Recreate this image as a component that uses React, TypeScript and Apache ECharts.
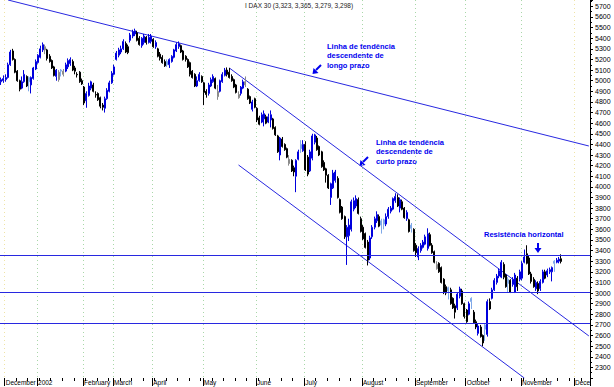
import React, { useEffect, useRef } from 'react';
import * as echarts from 'echarts';

// number of daily slots on the x axis (trading days + empty space at the right)
const dayCount = 256;

// month tick labels and the trading-day index at which each month starts
const monthLabels = ['December', '2002', 'February', 'March', 'April', 'May', 'June', 'July', 'August', 'September', 'October', 'November', 'Dece'];
const monthStarts = [2, 16, 36, 49, 66, 88, 111, 132, 157, 180, 202, 226, 249];

// y axis range and ticks
const priceMin = 2200;
const priceMax = 5760;
const priceStep = 100;

// daily DAX candles: [open, high, low, close]
const ohlc: number[][] = [
  [4990, 5030, 4960, 5010], [5000, 5050, 4980, 5020], [5010, 5060, 4990, 5030], [5030, 5170, 5020, 5150],
  [5150, 5290, 5140, 5270], [5280, 5300, 5190, 5200], [5200, 5210, 5070, 5080], [5090, 5100, 4990, 5000],
  [5000, 5010, 4900, 4920], [4930, 5040, 4920, 4990], [4990, 5100, 4980, 5060], [5040, 5050, 4940, 4950],
  [5030, 5040, 4900, 4990], [4960, 5040, 4880, 5030], [5020, 5130, 5010, 5120], [5110, 5200, 5100, 5180],
  [5170, 5250, 5160, 5240], [5220, 5330, 5210, 5300], [5290, 5360, 5270, 5340], [5290, 5340, 5250, 5320],
  [5290, 5300, 5190, 5210], [5230, 5250, 5170, 5180], [5190, 5200, 5110, 5120], [5130, 5140, 5040, 5050],
  [5040, 5110, 5000, 5100], [5010, 5100, 4990, 5080], [5100, 5110, 5040, 5090], [5060, 5110, 5040, 5090],
  [5090, 5170, 5080, 5150], [5130, 5210, 5110, 5190], [5160, 5220, 5140, 5200], [5180, 5200, 5090, 5100],
  [5120, 5140, 5060, 5090], [5060, 5080, 5030, 5055], [5080, 5090, 4980, 4990], [5000, 5020, 4960, 4970],
  [4940, 4950, 4770, 4790], [4810, 4900, 4745, 4880], [4860, 4980, 4850, 4950], [4930, 5000, 4910, 4990],
  [4960, 4980, 4890, 4900], [4870, 4900, 4840, 4865], [4880, 4890, 4810, 4820], [4840, 4850, 4740, 4760],
  [4770, 4790, 4720, 4750], [4740, 4850, 4700, 4830], [4830, 4930, 4820, 4910], [4900, 5000, 4890, 4980],
  [4980, 5090, 4970, 5070], [5060, 5150, 5050, 5130], [5200, 5280, 5190, 5260], [5240, 5310, 5220, 5290],
  [5270, 5330, 5250, 5300], [5300, 5390, 5290, 5370], [5350, 5370, 5260, 5270], [5320, 5340, 5250, 5265],
  [5380, 5450, 5360, 5430], [5420, 5480, 5400, 5460], [5440, 5490, 5420, 5470], [5450, 5470, 5370, 5380],
  [5400, 5420, 5330, 5340], [5330, 5410, 5310, 5400], [5360, 5440, 5340, 5420], [5410, 5420, 5340, 5360],
  [5360, 5440, 5350, 5410], [5370, 5440, 5350, 5420], [5390, 5400, 5310, 5320], [5320, 5380, 5300, 5360],
  [5300, 5310, 5220, 5230], [5250, 5270, 5190, 5210], [5220, 5240, 5160, 5170], [5180, 5200, 5130, 5140],
  [5180, 5200, 5130, 5150], [5150, 5210, 5120, 5200], [5180, 5240, 5170, 5230], [5220, 5300, 5210, 5290],
  [5280, 5360, 5270, 5340], [5320, 5370, 5300, 5350], [5330, 5340, 5260, 5270], [5280, 5290, 5190, 5200],
  [5230, 5240, 5180, 5200], [5200, 5210, 5120, 5130], [5170, 5180, 5040, 5060], [5090, 5100, 5020, 5030],
  [5060, 5070, 4940, 4950], [4950, 5040, 4940, 5000], [5000, 5080, 4990, 5060], [5040, 5050, 4980, 4990],
  [4980, 4990, 4770, 4890], [4900, 4920, 4840, 4870], [4880, 4980, 4860, 4960], [4950, 5030, 4940, 5010],
  [4990, 5060, 4980, 5040], [5020, 5030, 4920, 4930], [4850, 4960, 4820, 4900], [4900, 5010, 4890, 5000],
  [4990, 5080, 4980, 5060], [5050, 5120, 5040, 5100], [5100, 5125, 5040, 5060], [5080, 5120, 5020, 5030],
  [5040, 5060, 4990, 5000], [5010, 5020, 4930, 4940], [4960, 4970, 4880, 4890], [4840, 4900, 4830, 4870],
  [4880, 4950, 4860, 4940], [4930, 5010, 4920, 4990], [4960, 5040, 4940, 4990], [4920, 4930, 4820, 4830],
  [4850, 4860, 4780, 4790], [4730, 4820, 4710, 4800], [4830, 4840, 4740, 4750], [4740, 4750, 4610, 4630],
  [4650, 4670, 4580, 4590], [4610, 4700, 4600, 4680], [4640, 4720, 4570, 4690], [4660, 4680, 4590, 4600],
  [4610, 4690, 4600, 4660], [4630, 4720, 4560, 4680], [4640, 4650, 4540, 4550], [4560, 4570, 4480, 4490],
  [4480, 4490, 4320, 4330], [4300, 4470, 4250, 4460], [4450, 4470, 4370, 4380], [4400, 4410, 4340, 4350],
  [4360, 4370, 4270, 4280], [4220, 4300, 4200, 4260], [4250, 4260, 4140, 4150], [4180, 4200, 4100, 4140],
  [4100, 4260, 3950, 4250], [4260, 4350, 4250, 4330], [4400, 4440, 4320, 4360], [4340, 4440, 4330, 4400],
  [4400, 4430, 4150, 4160], [4280, 4300, 4100, 4120], [4150, 4350, 4140, 4330], [4270, 4500, 4250, 4480],
  [4420, 4500, 4400, 4490], [4460, 4480, 4340, 4350], [4380, 4390, 4290, 4300], [4330, 4340, 4180, 4190],
  [4230, 4250, 4150, 4160], [4170, 4180, 4040, 4110], [4110, 4120, 3980, 3990], [3900, 4040, 3830, 4030],
  [3990, 4160, 3980, 4130], [4060, 4160, 4040, 4140], [4080, 4100, 3890, 3900], [3880, 3890, 3750, 3760],
  [3810, 3820, 3690, 3700], [3720, 3730, 3510, 3530], [3530, 3640, 3265, 3620], [3540, 3700, 3490, 3640],
  [3600, 3880, 3580, 3860], [3790, 3900, 3770, 3870], [3820, 3920, 3800, 3890], [3880, 3900, 3740, 3750],
  [3700, 3720, 3570, 3580], [3620, 3640, 3500, 3510], [3560, 3570, 3420, 3430], [3480, 3500, 3260, 3310],
  [3330, 3540, 3310, 3520], [3530, 3640, 3510, 3620], [3620, 3720, 3600, 3700], [3680, 3770, 3660, 3740],
  [3720, 3740, 3620, 3630], [3680, 3700, 3560, 3640], [3690, 3700, 3600, 3650], [3650, 3750, 3630, 3720],
  [3720, 3810, 3700, 3790], [3770, 3820, 3750, 3800], [3790, 3900, 3780, 3890], [3870, 3940, 3850, 3910],
  [3900, 3930, 3810, 3820], [3800, 3900, 3760, 3880], [3860, 3880, 3780, 3790], [3800, 3810, 3700, 3710],
  [3700, 3780, 3680, 3760], [3690, 3700, 3570, 3580], [3640, 3660, 3570, 3610], [3600, 3610, 3390, 3400],
  [3450, 3470, 3340, 3380], [3340, 3440, 3310, 3420], [3400, 3470, 3380, 3450], [3430, 3500, 3420, 3480],
  [3460, 3550, 3450, 3530], [3420, 3610, 3400, 3560], [3550, 3570, 3440, 3450], [3450, 3470, 3370, 3380],
  [3390, 3400, 3280, 3290], [3230, 3300, 3220, 3270], [3280, 3290, 3190, 3200], [3240, 3250, 3090, 3100],
  [3130, 3140, 2990, 3010], [3060, 3080, 2980, 3000], [3050, 3060, 2940, 3020], [3030, 3050, 2890, 2900],
  [2950, 2960, 2850, 2860], [2880, 2900, 2760, 2820], [2860, 3000, 2840, 2990], [2970, 3060, 2950, 3040],
  [3020, 3040, 2890, 2900], [2900, 2910, 2760, 2780], [2840, 2850, 2720, 2730], [2800, 2920, 2790, 2900],
  [2950, 2960, 2850, 2920], [2820, 2840, 2710, 2720], [2730, 2750, 2660, 2680], [2620, 2710, 2600, 2690],
  [2680, 2700, 2580, 2590], [2600, 2610, 2500, 2530], [2700, 2710, 2550, 2660], [2610, 2940, 2590, 2920],
  [2920, 2950, 2840, 2850], [2950, 3050, 2940, 3030], [3030, 3140, 3020, 3120], [3100, 3180, 3080, 3160],
  [3160, 3230, 3140, 3210], [3150, 3310, 3140, 3290], [3270, 3290, 3130, 3150], [3170, 3180, 3050, 3060],
  [3130, 3150, 3010, 3090], [3120, 3130, 3000, 3010], [3080, 3150, 3060, 3130], [3010, 3190, 3000, 3170],
  [3140, 3160, 3020, 3060], [3130, 3220, 3110, 3200], [3140, 3300, 3120, 3280], [3290, 3410, 3280, 3340],
  [3370, 3450, 3270, 3280], [3330, 3350, 3170, 3180], [3180, 3200, 3090, 3110], [3130, 3150, 3050, 3060],
  [3040, 3120, 3020, 3100], [3090, 3110, 2990, 3020], [3040, 3130, 3020, 3110], [3100, 3220, 3090, 3200],
  [3200, 3220, 3130, 3140], [3170, 3230, 3150, 3210], [3200, 3240, 3180, 3220], [3200, 3250, 3110, 3240],
  [3300, 3310, 3200, 3280], [3290, 3330, 3280, 3310], [3300, 3340, 3280, 3320], [3323, 3365, 3279, 3298],
];

// trend lines: [dayIndex, price] end points
const longTrend = [[3, 5760], [255, 4385]];
const shortTrend = [[99, 5120], [255, 2596]];
const channelLow = [[103, 4206], [227, 2200]];

// horizontal support / resistance levels
const levels = [3355, 3005, 2715];

const title = 'I DAX 30 (3,323, 3,365, 3,279, 3,298)';

const BLUE = '#2828e0';
const TEXT_BLUE = '#0000ee';
const FONT = '"Liberation Sans", Arial, sans-serif';

// candle look: hollow/filled by open-close, colour by change from the previous close
function candleStyle(o: number, c: number, prevClose: number) {
  const up = c > prevClose;
  if (c >= o && up) return { color: '#ffffff', color0: '#ffffff', borderColor: '#0000dd', borderColor0: '#0000dd' };
  if (c >= o) return { color: '#9c9c9c', color0: '#9c9c9c', borderColor: '#8a8a8a', borderColor0: '#8a8a8a' };
  if (up) return { color: '#a4c6f0', color0: '#a4c6f0', borderColor: '#7ea8e8', borderColor0: '#7ea8e8' };
  return { color: '#000000', color0: '#000000', borderColor: '#000000', borderColor0: '#000000' };
}

export default function App() {
  const ref = useRef<HTMLDivElement>(null);

  useEffect(() => {
    if (!ref.current) return;
    const chart = echarts.init(ref.current, undefined, { renderer: 'svg' });
    const categories = Array.from({ length: dayCount }, (_, i) => String(i));
    const candleData = ohlc.map(([o, h, l, c], i) => ({
      value: [o, c, l, h],
      itemStyle: candleStyle(o, c, i > 0 ? ohlc[i - 1][3] : o),
    }));
    const isMonth = (i: number) => monthStarts.indexOf(i) >= 0;
    const splitColors = monthLabels.map((m) => (m.startsWith('Dec') ? '#efe3a6' : '#a9d7a9'));

    const trendSeries = (data: number[][], extra: object = {}) => ({
      type: 'line',
      data,
      symbol: 'none',
      silent: true,
      clip: true,
      lineStyle: { color: BLUE, width: 1 },
      itemStyle: { color: BLUE },
      z: 1,
      ...extra,
    });

    chart.setOption({
      animation: false,
      backgroundColor: '#ffffff',
      grid: { left: 0, right: 24, top: 0, bottom: 9, containLabel: false },
      xAxis: [
        {
          type: 'category',
          data: categories,
          boundaryGap: true,
          position: 'bottom',
          axisLine: { show: false },
          axisTick: { show: true, interval: (i: number) => isMonth(i), length: 8, lineStyle: { color: '#000' } },
          axisLabel: {
            show: true,
            interval: (i: number) => isMonth(i),
            formatter: (_v: string, i: number) => monthLabels[monthStarts.indexOf(i)] ?? '',
            align: 'left',
            margin: 1,
            fontSize: 6.5,
            fontFamily: FONT,
            color: '#000',
          },
          splitLine: {
            show: true,
            interval: (i: number) => isMonth(i),
            lineStyle: { color: splitColors, type: [1, 3], width: 1 },
          },
        },
        {
          type: 'category',
          data: categories,
          boundaryGap: true,
          position: 'bottom',
          axisLine: { show: false },
          axisTick: { show: true, interval: (i: number) => i % 5 === 2, length: 3, lineStyle: { color: '#000' } },
          axisLabel: { show: false },
          splitLine: { show: false },
        },
      ],
      yAxis: {
        type: 'value',
        position: 'right',
        min: priceMin,
        max: priceMax,
        interval: priceStep,
        axisLine: { show: true, lineStyle: { color: '#000' } },
        axisTick: { show: true, length: 3, lineStyle: { color: '#000' } },
        minorTick: { show: true, splitNumber: 2, length: 2, lineStyle: { color: '#000' } },
        splitLine: { show: false },
        axisLabel: {
          margin: 5,
          fontSize: 7,
          fontFamily: FONT,
          color: '#000',
          showMinLabel: false,
          showMaxLabel: false,
          formatter: (v: number) => String(v),
        },
      },
      series: [
        {
          type: 'candlestick',
          data: candleData,
          barWidth: 1.5,
          itemStyle: { borderWidth: 1 },
          z: 2,
        },
        trendSeries(longTrend, {
          markLine: {
            silent: true,
            symbol: 'none',
            label: { show: false },
            emphasis: { disabled: true },
            lineStyle: { color: BLUE, width: 1, type: 'solid', opacity: 1 },
            data: levels.map((v) => ({ yAxis: v, lineStyle: { color: BLUE, width: 1, type: 'solid' } })),
          },
        }),
        trendSeries(shortTrend),
        trendSeries(channelLow),
      ],
      graphic: [
        {
          type: 'text',
          x: 245,
          y: 2,
          style: { text: title, fill: '#222', fontSize: 6.5, fontFamily: FONT },
        },
        {
          type: 'text',
          x: 327,
          y: 42,
          style: {
            text: 'Linha de tendência\ndescendente de\nlongo prazo',
            fill: TEXT_BLUE,
            fontSize: 7.5,
            fontWeight: 'bold',
            fontFamily: FONT,
            lineHeight: 9.3,
          },
        },
        {
          type: 'text',
          x: 376,
          y: 138,
          style: {
            text: 'Linha de tendência\ndescendente de\ncurto prazo',
            fill: TEXT_BLUE,
            fontSize: 7.5,
            fontWeight: 'bold',
            fontFamily: FONT,
            lineHeight: 9.3,
          },
        },
        {
          type: 'text',
          x: 484,
          y: 230,
          style: {
            text: 'Resistência horizontal',
            fill: TEXT_BLUE,
            fontSize: 7.5,
            fontWeight: 'bold',
            fontFamily: FONT,
          },
        },
        // arrows
        { type: 'line', shape: { x1: 321, y1: 65, x2: 316, y2: 70 }, style: { stroke: TEXT_BLUE, lineWidth: 2 } },
        { type: 'polygon', shape: { points: [[312.5, 74], [313.5, 68], [318.5, 73]] }, style: { fill: TEXT_BLUE } },
        { type: 'line', shape: { x1: 368, y1: 157, x2: 363, y2: 162 }, style: { stroke: TEXT_BLUE, lineWidth: 2 } },
        { type: 'polygon', shape: { points: [[359.5, 166], [360.5, 160], [365.5, 165]] }, style: { fill: TEXT_BLUE } },
        { type: 'line', shape: { x1: 538, y1: 243, x2: 538, y2: 249 }, style: { stroke: TEXT_BLUE, lineWidth: 2 } },
        { type: 'polygon', shape: { points: [[534.5, 248], [541.5, 248], [538, 253]] }, style: { fill: TEXT_BLUE } },
      ],
    });

    return () => chart.dispose();
  }, []);

  return (
    <div
      ref={ref}
      style={{ position: 'absolute', left: 0, top: 0, width: 614, height: 387, background: '#fff' }}
    />
  );
}
